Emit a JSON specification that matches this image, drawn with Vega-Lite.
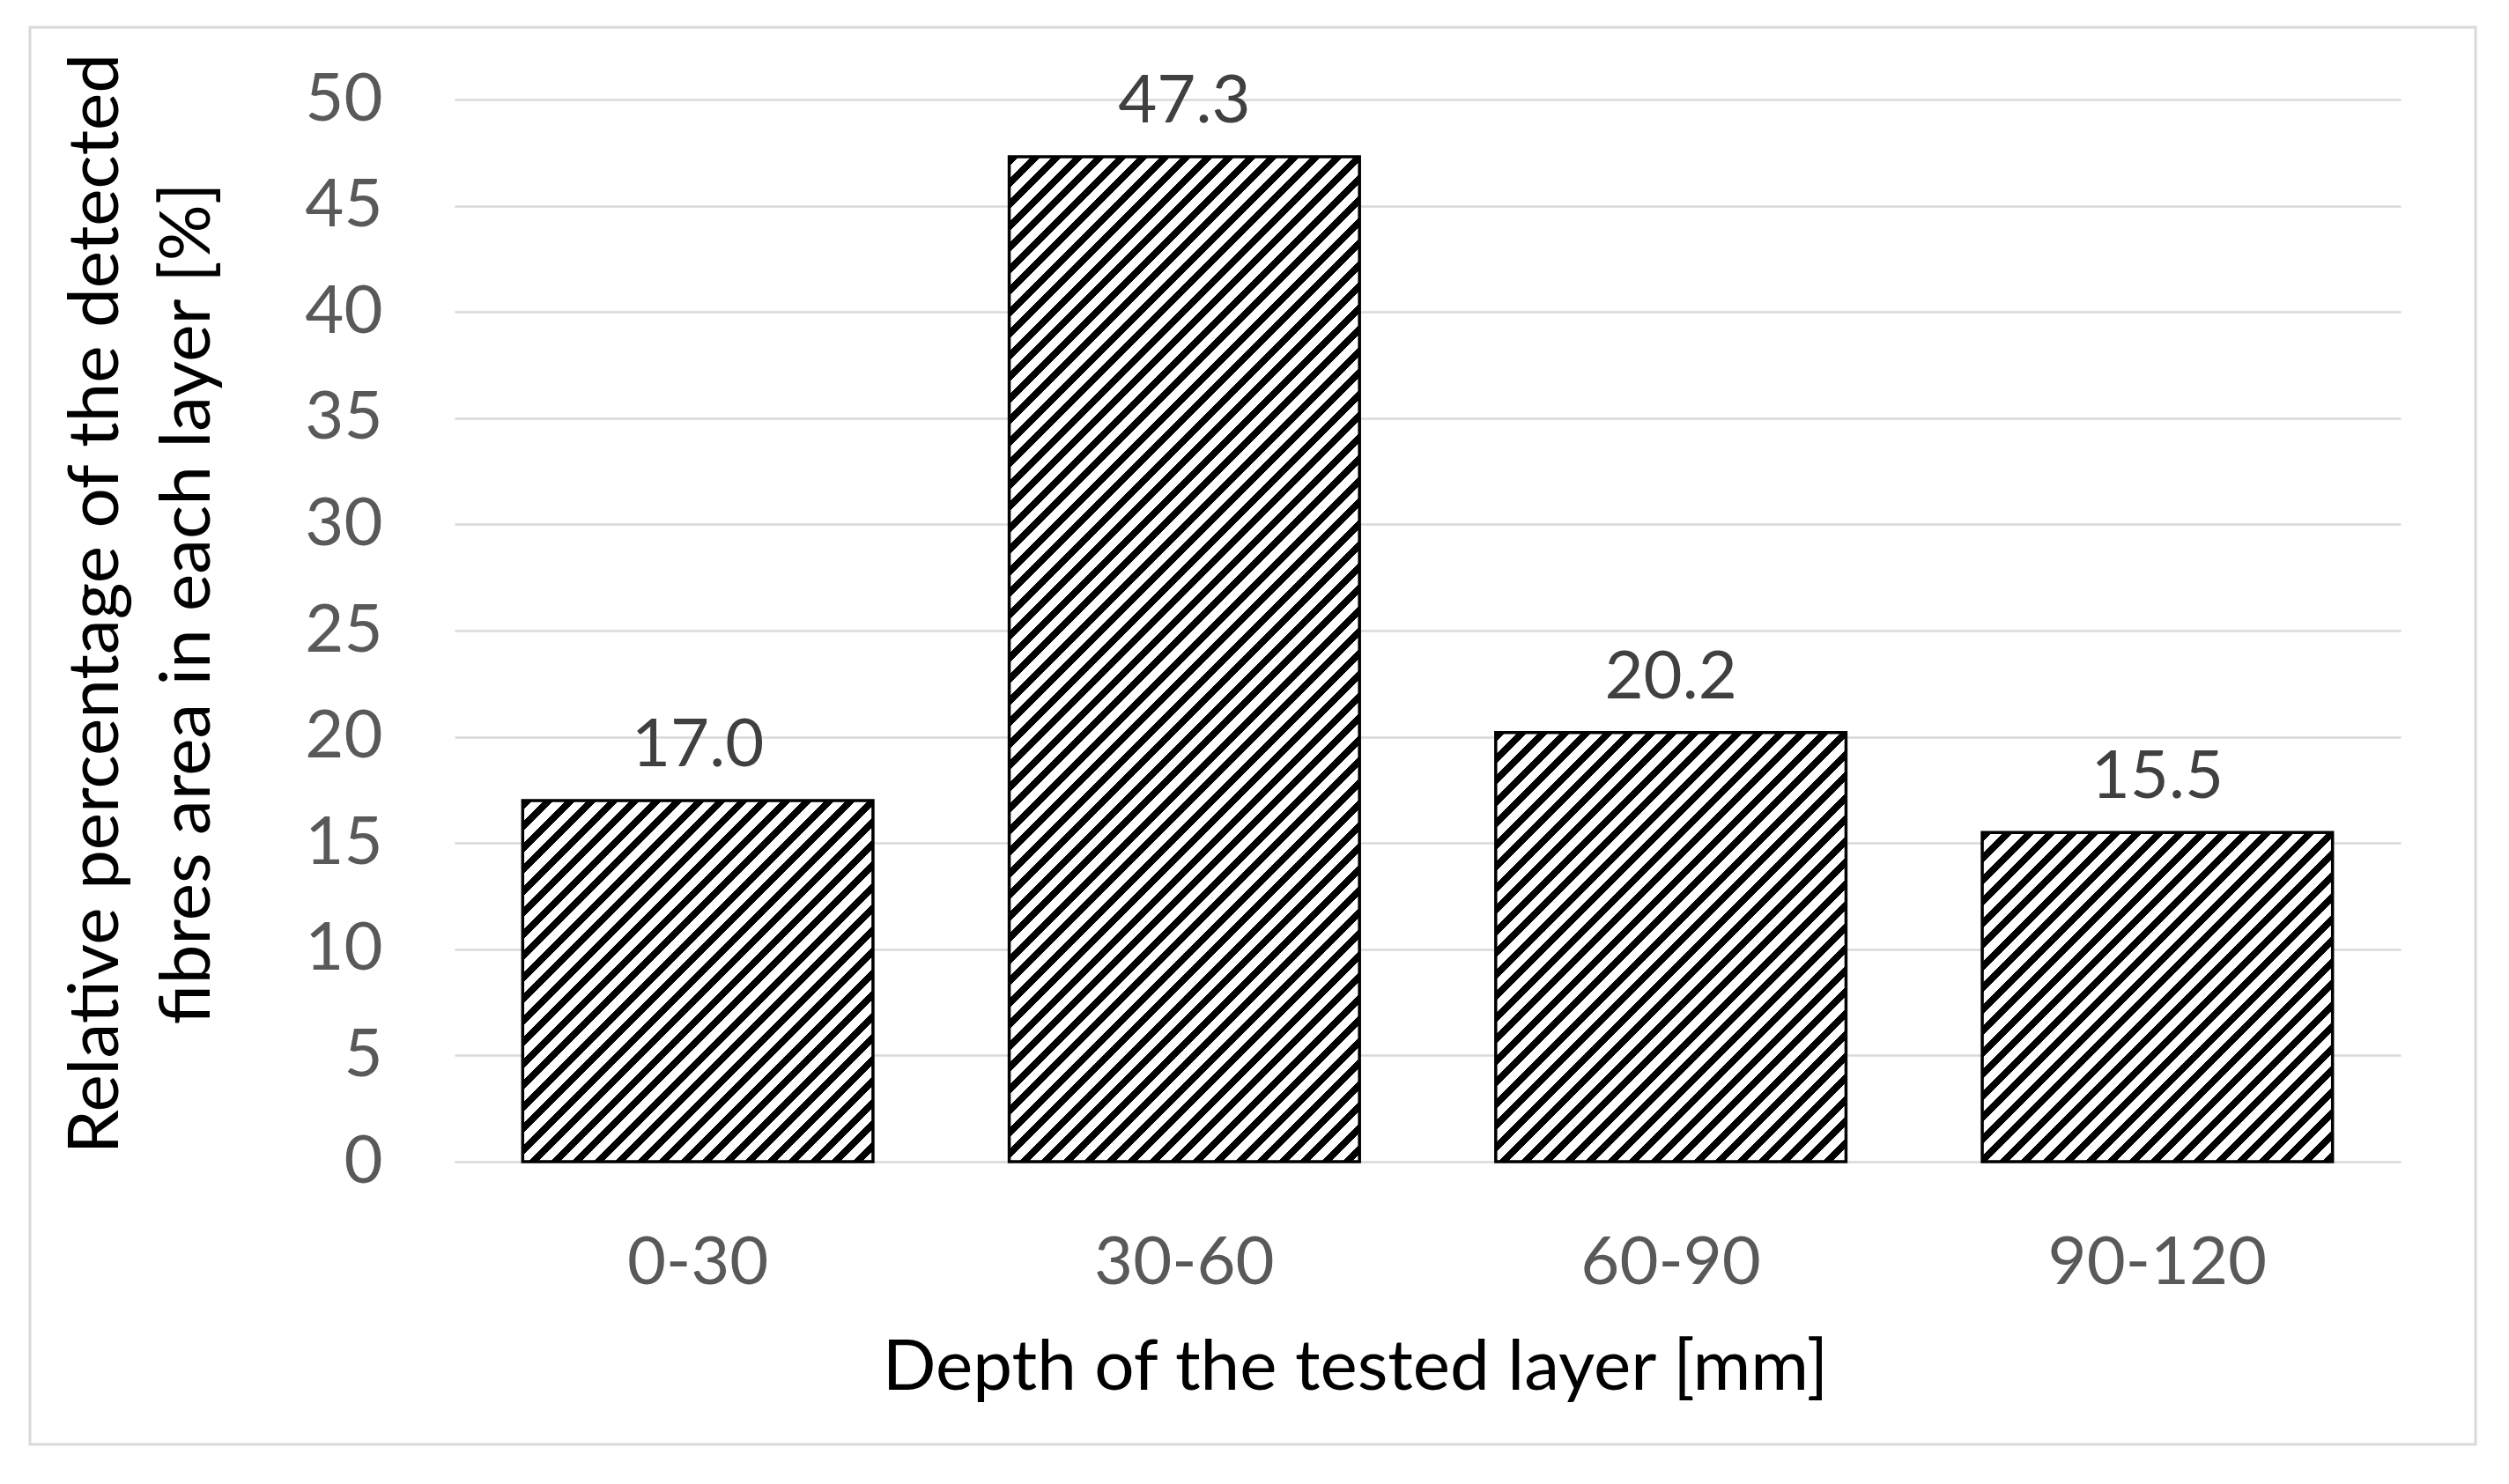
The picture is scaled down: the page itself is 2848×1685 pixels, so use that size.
{
  "$schema": "https://vega.github.io/schema/vega-lite/v6.json",
  "width": 2776,
  "height": 1609,
  "autosize": "none",
  "padding": {"left": 34, "top": 31, "right": 38, "bottom": 45},
  "background": "#ffffff",
  "config": {
    "view": {"stroke": "#d9d9d9", "strokeWidth": 3},
    "font": "Lato"
  },
  "params": [
    {"name": "st", "value": [
      {"offset":0,"color":"#000"},{"offset":0.0068,"color":"#000"},{"offset":0.0068,"color":"#fff"},{"offset":0.015,"color":"#fff"},
      {"offset":0.015,"color":"#000"},{"offset":0.0218,"color":"#000"},{"offset":0.0218,"color":"#fff"},{"offset":0.03,"color":"#fff"},
      {"offset":0.03,"color":"#000"},{"offset":0.0368,"color":"#000"},{"offset":0.0368,"color":"#fff"},{"offset":0.045,"color":"#fff"},
      {"offset":0.045,"color":"#000"},{"offset":0.0518,"color":"#000"},{"offset":0.0518,"color":"#fff"},{"offset":0.06,"color":"#fff"},
      {"offset":0.06,"color":"#000"},{"offset":0.0668,"color":"#000"},{"offset":0.0668,"color":"#fff"},{"offset":0.075,"color":"#fff"},
      {"offset":0.075,"color":"#000"},{"offset":0.0818,"color":"#000"},{"offset":0.0818,"color":"#fff"},{"offset":0.09,"color":"#fff"},
      {"offset":0.09,"color":"#000"},{"offset":0.0968,"color":"#000"},{"offset":0.0968,"color":"#fff"},{"offset":0.105,"color":"#fff"},
      {"offset":0.105,"color":"#000"},{"offset":0.1118,"color":"#000"},{"offset":0.1118,"color":"#fff"},{"offset":0.12,"color":"#fff"},
      {"offset":0.12,"color":"#000"},{"offset":0.1268,"color":"#000"},{"offset":0.1268,"color":"#fff"},{"offset":0.135,"color":"#fff"},
      {"offset":0.135,"color":"#000"},{"offset":0.1418,"color":"#000"},{"offset":0.1418,"color":"#fff"},{"offset":0.15,"color":"#fff"},
      {"offset":0.15,"color":"#000"},{"offset":0.1568,"color":"#000"},{"offset":0.1568,"color":"#fff"},{"offset":0.165,"color":"#fff"},
      {"offset":0.165,"color":"#000"},{"offset":0.1718,"color":"#000"},{"offset":0.1718,"color":"#fff"},{"offset":0.18,"color":"#fff"},
      {"offset":0.18,"color":"#000"},{"offset":0.1868,"color":"#000"},{"offset":0.1868,"color":"#fff"},{"offset":0.195,"color":"#fff"},
      {"offset":0.195,"color":"#000"},{"offset":0.2018,"color":"#000"},{"offset":0.2018,"color":"#fff"},{"offset":0.21,"color":"#fff"},
      {"offset":0.21,"color":"#000"},{"offset":0.2168,"color":"#000"},{"offset":0.2168,"color":"#fff"},{"offset":0.225,"color":"#fff"},
      {"offset":0.225,"color":"#000"},{"offset":0.2318,"color":"#000"},{"offset":0.2318,"color":"#fff"},{"offset":0.24,"color":"#fff"},
      {"offset":0.24,"color":"#000"},{"offset":0.2468,"color":"#000"},{"offset":0.2468,"color":"#fff"},{"offset":0.255,"color":"#fff"},
      {"offset":0.255,"color":"#000"},{"offset":0.2618,"color":"#000"},{"offset":0.2618,"color":"#fff"},{"offset":0.27,"color":"#fff"},
      {"offset":0.27,"color":"#000"},{"offset":0.2768,"color":"#000"},{"offset":0.2768,"color":"#fff"},{"offset":0.285,"color":"#fff"},
      {"offset":0.285,"color":"#000"},{"offset":0.2918,"color":"#000"},{"offset":0.2918,"color":"#fff"},{"offset":0.3,"color":"#fff"},
      {"offset":0.3,"color":"#000"},{"offset":0.3068,"color":"#000"},{"offset":0.3068,"color":"#fff"},{"offset":0.315,"color":"#fff"},
      {"offset":0.315,"color":"#000"},{"offset":0.3218,"color":"#000"},{"offset":0.3218,"color":"#fff"},{"offset":0.33,"color":"#fff"},
      {"offset":0.33,"color":"#000"},{"offset":0.3368,"color":"#000"},{"offset":0.3368,"color":"#fff"},{"offset":0.345,"color":"#fff"},
      {"offset":0.345,"color":"#000"},{"offset":0.3518,"color":"#000"},{"offset":0.3518,"color":"#fff"},{"offset":0.36,"color":"#fff"},
      {"offset":0.36,"color":"#000"},{"offset":0.3668,"color":"#000"},{"offset":0.3668,"color":"#fff"},{"offset":0.375,"color":"#fff"},
      {"offset":0.375,"color":"#000"},{"offset":0.3818,"color":"#000"},{"offset":0.3818,"color":"#fff"},{"offset":0.39,"color":"#fff"},
      {"offset":0.39,"color":"#000"},{"offset":0.3968,"color":"#000"},{"offset":0.3968,"color":"#fff"},{"offset":0.405,"color":"#fff"},
      {"offset":0.405,"color":"#000"},{"offset":0.4118,"color":"#000"},{"offset":0.4118,"color":"#fff"},{"offset":0.42,"color":"#fff"},
      {"offset":0.42,"color":"#000"},{"offset":0.4268,"color":"#000"},{"offset":0.4268,"color":"#fff"},{"offset":0.435,"color":"#fff"},
      {"offset":0.435,"color":"#000"},{"offset":0.4418,"color":"#000"},{"offset":0.4418,"color":"#fff"},{"offset":0.45,"color":"#fff"},
      {"offset":0.45,"color":"#000"},{"offset":0.4568,"color":"#000"},{"offset":0.4568,"color":"#fff"},{"offset":0.465,"color":"#fff"},
      {"offset":0.465,"color":"#000"},{"offset":0.4718,"color":"#000"},{"offset":0.4718,"color":"#fff"},{"offset":0.48,"color":"#fff"},
      {"offset":0.48,"color":"#000"},{"offset":0.4868,"color":"#000"},{"offset":0.4868,"color":"#fff"},{"offset":0.495,"color":"#fff"},
      {"offset":0.495,"color":"#000"},{"offset":0.5018,"color":"#000"},{"offset":0.5018,"color":"#fff"},{"offset":0.51,"color":"#fff"},
      {"offset":0.51,"color":"#000"},{"offset":0.5168,"color":"#000"},{"offset":0.5168,"color":"#fff"},{"offset":0.525,"color":"#fff"},
      {"offset":0.525,"color":"#000"},{"offset":0.5318,"color":"#000"},{"offset":0.5318,"color":"#fff"},{"offset":0.54,"color":"#fff"},
      {"offset":0.54,"color":"#000"},{"offset":0.5468,"color":"#000"},{"offset":0.5468,"color":"#fff"},{"offset":0.555,"color":"#fff"},
      {"offset":0.555,"color":"#000"},{"offset":0.5618,"color":"#000"},{"offset":0.5618,"color":"#fff"},{"offset":0.57,"color":"#fff"},
      {"offset":0.57,"color":"#000"},{"offset":0.5768,"color":"#000"},{"offset":0.5768,"color":"#fff"},{"offset":0.585,"color":"#fff"},
      {"offset":0.585,"color":"#000"},{"offset":0.5918,"color":"#000"},{"offset":0.5918,"color":"#fff"},{"offset":0.6,"color":"#fff"},
      {"offset":0.6,"color":"#000"},{"offset":0.6068,"color":"#000"},{"offset":0.6068,"color":"#fff"},{"offset":0.615,"color":"#fff"},
      {"offset":0.615,"color":"#000"},{"offset":0.6218,"color":"#000"},{"offset":0.6218,"color":"#fff"},{"offset":0.63,"color":"#fff"},
      {"offset":0.63,"color":"#000"},{"offset":0.6368,"color":"#000"},{"offset":0.6368,"color":"#fff"},{"offset":0.645,"color":"#fff"},
      {"offset":0.645,"color":"#000"},{"offset":0.6518,"color":"#000"},{"offset":0.6518,"color":"#fff"},{"offset":0.66,"color":"#fff"},
      {"offset":0.66,"color":"#000"},{"offset":0.6668,"color":"#000"},{"offset":0.6668,"color":"#fff"},{"offset":0.675,"color":"#fff"},
      {"offset":0.675,"color":"#000"},{"offset":0.6818,"color":"#000"},{"offset":0.6818,"color":"#fff"},{"offset":0.69,"color":"#fff"},
      {"offset":0.69,"color":"#000"},{"offset":0.6968,"color":"#000"},{"offset":0.6968,"color":"#fff"},{"offset":0.705,"color":"#fff"},
      {"offset":0.705,"color":"#000"},{"offset":0.7118,"color":"#000"},{"offset":0.7118,"color":"#fff"},{"offset":0.72,"color":"#fff"},
      {"offset":0.72,"color":"#000"},{"offset":0.7268,"color":"#000"},{"offset":0.7268,"color":"#fff"},{"offset":0.735,"color":"#fff"},
      {"offset":0.735,"color":"#000"},{"offset":0.7418,"color":"#000"},{"offset":0.7418,"color":"#fff"},{"offset":0.75,"color":"#fff"},
      {"offset":0.75,"color":"#000"},{"offset":0.7568,"color":"#000"},{"offset":0.7568,"color":"#fff"},{"offset":0.765,"color":"#fff"},
      {"offset":0.765,"color":"#000"},{"offset":0.7718,"color":"#000"},{"offset":0.7718,"color":"#fff"},{"offset":0.78,"color":"#fff"},
      {"offset":0.78,"color":"#000"},{"offset":0.7868,"color":"#000"},{"offset":0.7868,"color":"#fff"},{"offset":0.795,"color":"#fff"},
      {"offset":0.795,"color":"#000"},{"offset":0.8018,"color":"#000"},{"offset":0.8018,"color":"#fff"},{"offset":0.81,"color":"#fff"},
      {"offset":0.81,"color":"#000"},{"offset":0.8168,"color":"#000"},{"offset":0.8168,"color":"#fff"},{"offset":0.825,"color":"#fff"},
      {"offset":0.825,"color":"#000"},{"offset":0.8318,"color":"#000"},{"offset":0.8318,"color":"#fff"},{"offset":0.84,"color":"#fff"},
      {"offset":0.84,"color":"#000"},{"offset":0.8468,"color":"#000"},{"offset":0.8468,"color":"#fff"},{"offset":0.855,"color":"#fff"},
      {"offset":0.855,"color":"#000"},{"offset":0.8618,"color":"#000"},{"offset":0.8618,"color":"#fff"},{"offset":0.87,"color":"#fff"},
      {"offset":0.87,"color":"#000"},{"offset":0.8768,"color":"#000"},{"offset":0.8768,"color":"#fff"},{"offset":0.885,"color":"#fff"},
      {"offset":0.885,"color":"#000"},{"offset":0.8918,"color":"#000"},{"offset":0.8918,"color":"#fff"},{"offset":0.9,"color":"#fff"},
      {"offset":0.9,"color":"#000"},{"offset":0.9068,"color":"#000"},{"offset":0.9068,"color":"#fff"},{"offset":0.915,"color":"#fff"},
      {"offset":0.915,"color":"#000"},{"offset":0.9218,"color":"#000"},{"offset":0.9218,"color":"#fff"},{"offset":0.93,"color":"#fff"},
      {"offset":0.93,"color":"#000"},{"offset":0.9368,"color":"#000"},{"offset":0.9368,"color":"#fff"},{"offset":0.945,"color":"#fff"},
      {"offset":0.945,"color":"#000"},{"offset":0.9518,"color":"#000"},{"offset":0.9518,"color":"#fff"},{"offset":1,"color":"#fff"}
    ]}
  ],
  "data": {"values": [
    {"depth": "0-30", "value": 17.0},
    {"depth": "30-60", "value": 47.3},
    {"depth": "60-90", "value": 20.2},
    {"depth": "90-120", "value": 15.5}
  ]},
  "encoding": {
    "x": {
      "field": "depth", "type": "nominal", "sort": null,
      "scale": {"domain": ["0-30", "30-60", "60-90", "90-120"], "range": [482, 2691], "paddingInner": 0.28, "paddingOuter": 0.14},
      "axis": {
        "orient": "bottom", "offset": -321, "domain": false, "ticks": false, "tickSize": 0, "grid": false,
        "labelAngle": 0, "labelPadding": 138, "labelBaseline": "alphabetic", "labelLimit": 0,
        "labelFont": "Lato", "labelFontSize": 76, "labelColor": "#595959",
        "title": "Depth of the tested layer [mm]",
        "titleFont": "Lato", "titleFontSize": 80, "titleFontWeight": "normal", "titleColor": "#000000",
        "titleX": 1504, "titleY": 258, "titleAlign": "center", "titleBaseline": "alphabetic", "titleAnchor": null, "titleLimit": 0
      }
    },
    "y": {
      "field": "value", "type": "quantitative",
      "scale": {"domain": [0, 50], "range": [1288, 82], "nice": false, "zero": true},
      "axis": {
        "orient": "left", "offset": -482, "domain": false, "ticks": false, "tickSize": 0,
        "values": [0, 5, 10, 15, 20, 25, 30, 35, 40, 45, 50],
        "grid": true, "gridColor": "#d9d9d9", "gridWidth": 2.5,
        "labelPadding": 82, "labelFont": "Lato", "labelFontSize": 76, "labelColor": "#595959",
        "title": ["Relative percentage of the detected", "fibres area in each layer [%]"],
        "titleFont": "Lato", "titleFontSize": 80, "titleFontWeight": "normal", "titleColor": "#000000",
        "titleAngle": -90, "titleX": -383, "titleY": 654, "titleAlign": "center", "titleBaseline": "alphabetic",
        "titleLineHeight": 104, "titleAnchor": null, "titleLimit": 0
      }
    }
  },
  "layer": [
    {
      "transform": [{"filter": "datum.depth === '0-30'"}],
      "mark": {"type": "bar", "stroke": "#000000", "strokeWidth": 3.5,
        "fill": {"expr": "{gradient: 'linear', x1: 0, y1: 0, x2: 1.99075, y2: 2.05301, stops: st}"}}
    },
    {
      "transform": [{"filter": "datum.depth === '30-60'"}],
      "mark": {"type": "bar", "stroke": "#000000", "strokeWidth": 3.5,
        "fill": {"expr": "{gradient: 'linear', x1: 0, y1: 0, x2: 0.4449, y2: 1.2766, stops: st}"}}
    },
    {
      "transform": [{"filter": "datum.depth === '60-90'"}],
      "mark": {"type": "bar", "stroke": "#000000", "strokeWidth": 3.5,
        "fill": {"expr": "{gradient: 'linear', x1: 0, y1: 0, x2: 1.64215, y2: 2.01227, stops: st}"}}
    },
    {
      "transform": [{"filter": "datum.depth === '90-120'"}],
      "mark": {"type": "bar", "stroke": "#000000", "strokeWidth": 3.5,
        "fill": {"expr": "{gradient: 'linear', x1: 0, y1: 0, x2: 2.18028, y2: 2.0501, stops: st}"}}
    },
    {
      "mark": {"type": "text", "font": "Lato", "fontSize": 76, "color": "#404040", "baseline": "alphabetic", "align": "center", "dy": -39},
      "encoding": {"text": {"field": "value", "type": "quantitative", "format": ".1f"}}
    }
  ]
}
